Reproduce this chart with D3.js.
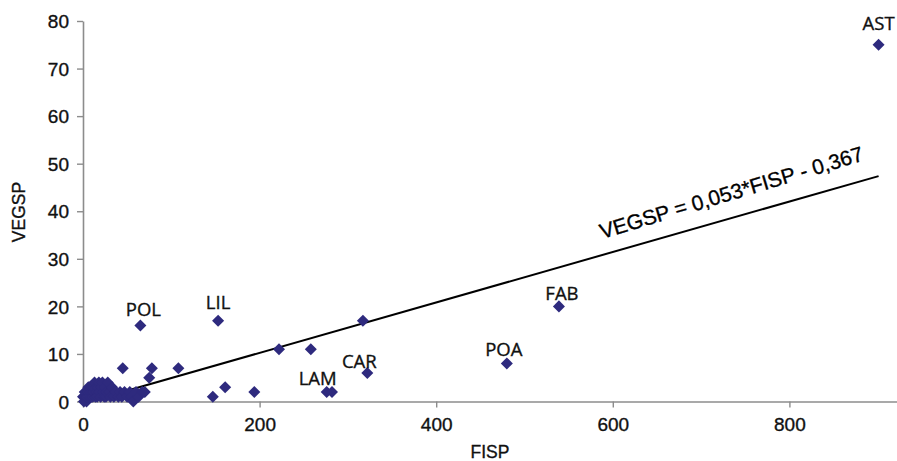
<!DOCTYPE html>
<html>
<head>
<meta charset="utf-8">
<script src="https://cdn.jsdelivr.net/npm/d3@7"></script>
<style>
  html, body { margin: 0; padding: 0; background: #fff; }
  svg { display: block; }
</style>
</head>
<body>
<svg id="chart" width="897" height="461"></svg>
<script>
// Named families (labelled points)
const families = ["AST", "FAB", "POA", "CAR", "LAM", "LIL", "POL"];
const familyFisp = [901, 539, 480, 322, 276, 153, 65];
const familyVegsp = [75, 20, 8, 6, 2, 17, 16];

// Remaining families (unlabelled points)
const otherFisp = [
  0, 1, 1, 2, 2, 3, 3, 4, 4, 5, 5, 6, 6, 7, 8, 8, 9, 10, 10, 11, 12, 12, 13, 14,
  15, 15, 16, 17, 18, 19, 20, 21, 22, 23, 24, 25, 26, 27, 28, 30, 31, 33, 35, 37,
  40, 42, 44, 47, 50, 53, 55, 57, 60, 63, 67, 70,
  45, 78, 75, 108, 147, 161, 194, 222, 258, 317, 282
];
const otherVegsp = [
  1, 0, 1, 1, 2, 1, 2, 0, 1, 2, 1, 2, 3, 1, 2, 3, 1, 2, 3, 1, 2, 3, 4, 1,
  2, 3, 1, 3, 4, 2, 1, 3, 4, 2, 1, 3, 1, 2, 4, 2, 1, 3, 1, 2,
  1, 2, 1, 2, 1, 2, 1, 0, 2, 1, 2, 2,
  7, 7, 5, 7, 1, 3, 2, 11, 11, 17, 2
];

// Linear regression: VEGSP = 0.053 * FISP - 0.367
const slope = 0.053;
const intercept = -0.367;
const equationText = "VEGSP = 0,053*FISP - 0,367";

const xTicks = [0, 200, 400, 600, 800];
const yTicks = [0, 10, 20, 30, 40, 50, 60, 70, 80];

// Label placement relative to each named point (pixels)
const labelOffsets = {
  AST: [0, -15], FAB: [3, -6], POA: [-3, -7], CAR: [-8, -5],
  LAM: [-9, -7], LIL: [0, -12], POL: [3, -9]
};

const svg = d3.select("#chart");
const W = 897, H = 461;
svg.append("rect").attr("width", W).attr("height", H).attr("fill", "#fff");

const x = d3.scaleLinear().domain([0, 1000]).range([83, 966]);
const y = d3.scaleLinear().domain([0, 80]).range([401.5, 21]);

const axisColor = "#8c8c8c";
const textColor = "#111";
const markColor = "#2e2a7e";
const sansFont = "'Liberation Sans', Arial, sans-serif";

// Slightly heavier glyphs for all chart text
function heavy(sel, color) {
  sel.attr("fill", color).attr("stroke", color).attr("stroke-width", 0.35);
}

// Axes
const xAxis = svg.append("g")
  .attr("transform", `translate(0,${y(0)})`)
  .call(d3.axisBottom(x).tickValues(xTicks).tickSize(6).tickSizeOuter(0).tickPadding(8));
const yAxis = svg.append("g")
  .attr("transform", `translate(${x(0)},0)`)
  .call(d3.axisLeft(y).tickValues(yTicks).tickSize(6).tickSizeOuter(0).tickPadding(8));

[xAxis, yAxis].forEach(g => {
  g.select(".domain").attr("stroke", axisColor).attr("stroke-width", 1.6);
  g.selectAll(".tick line").attr("stroke", axisColor).attr("stroke-width", 1.4);
  g.selectAll(".tick text")
    .call(heavy, textColor)
    .style("font-family", sansFont)
    .style("font-size", "19px");
});
yAxis.selectAll(".tick text").attr("dy", "0.35em");
xAxis.selectAll(".tick text").attr("dy", "0.8em");

// Axis titles
svg.append("text")
  .attr("x", 490).attr("y", 458)
  .attr("text-anchor", "middle")
  .call(heavy, textColor)
  .style("font-family", sansFont)
  .style("font-size", "17.5px")
  .text("FISP");
svg.append("text")
  .attr("transform", `translate(25,212) rotate(-90)`)
  .attr("text-anchor", "middle")
  .call(heavy, textColor)
  .style("font-family", sansFont)
  .style("font-size", "17.5px")
  .text("VEGSP");

// Regression line across the observed FISP range
const maxFisp = d3.max(familyFisp.concat(otherFisp));
svg.append("line")
  .attr("x1", x(0)).attr("y1", y(intercept))
  .attr("x2", x(maxFisp)).attr("y2", y(slope * maxFisp + intercept))
  .attr("stroke", "#000").attr("stroke-width", 2);

// Points
const diamond = d3.symbol().type(d3.symbolDiamond2).size(92);
const allPts = otherFisp.map((f, i) => [f, otherVegsp[i]])
  .concat(familyFisp.map((f, i) => [f, familyVegsp[i]]));
svg.append("g").selectAll("path")
  .data(allPts)
  .join("path")
  .attr("d", diamond)
  .attr("transform", d => `translate(${x(d[0])},${y(d[1])})`)
  .attr("fill", markColor);

// Family labels
svg.append("g").selectAll("text")
  .data(families)
  .join("text")
  .attr("x", (d, i) => x(familyFisp[i]) + labelOffsets[d][0])
  .attr("y", (d, i) => y(familyVegsp[i]) + labelOffsets[d][1])
  .attr("text-anchor", "middle")
  .call(heavy, textColor)
  .style("font-family", "'Open Sans', sans-serif")
  .style("font-size", "18.5px")
  .text(d => d);

// Equation label along the line
const eqF = 588;
const angle = -Math.atan(slope * (y(0) - y(1)) / (x(1) - x(0))) * 180 / Math.PI - 0.8;
svg.append("text")
  .attr("transform", `translate(${x(eqF)},${y(slope * eqF + intercept) - 16}) rotate(${angle})`)
  .call(heavy, "#000")
  .style("font-family", sansFont)
  .style("font-size", "21px")
  .text(equationText);
</script>
</body>
</html>
